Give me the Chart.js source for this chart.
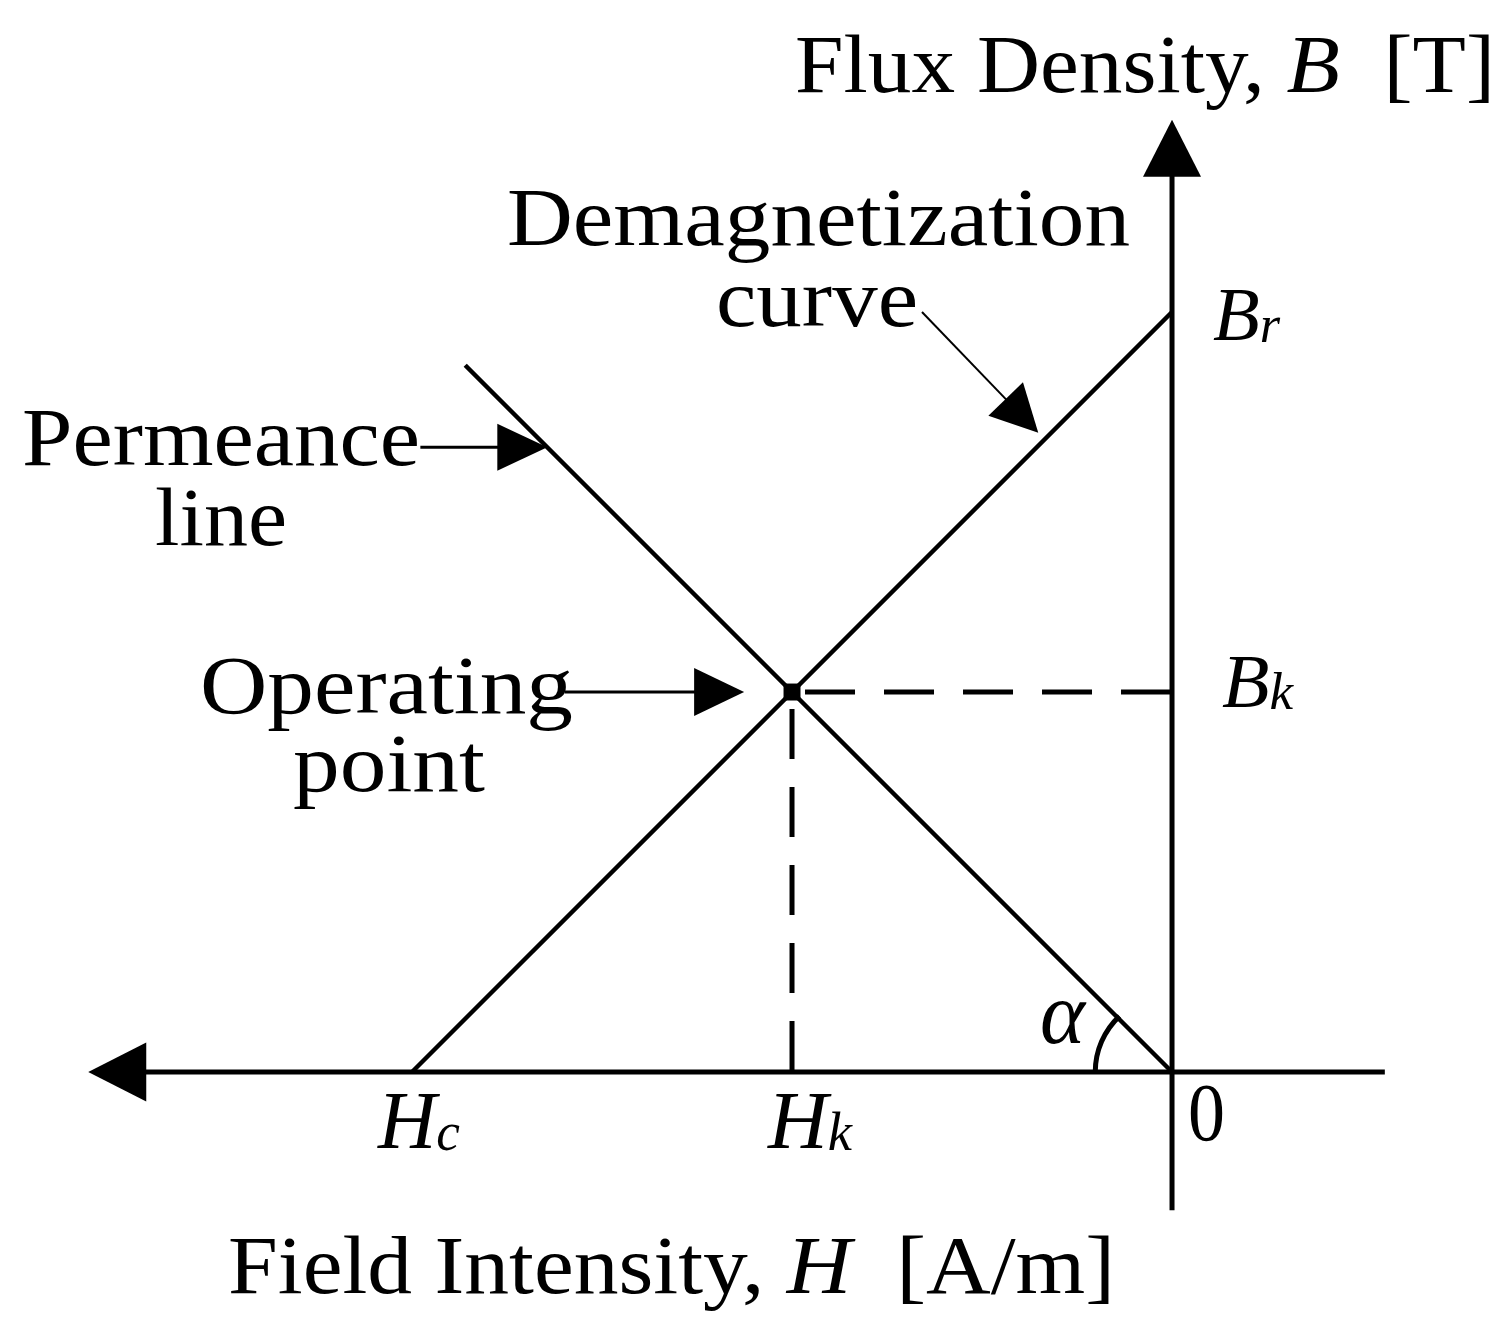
<!DOCTYPE html>
<html>
<head>
<meta charset="utf-8">
<title>Demagnetization curve and permeance line</title>
<script src="https://cdn.jsdelivr.net/npm/chart.js@4/dist/chart.umd.min.js"></script>
<style>
  html, body { margin: 0; padding: 0; background: #fff; }
  #wrap { width: 1508px; height: 1337px; }
</style>
</head>
<body>
<div id="wrap"><canvas id="chart" width="1508" height="1337"></canvas></div>
<script>
// values: H grows to the left (negative), B upward
const demagH = [-10.0, 0];          // Hc -> 0
const demagB = [0, 10.0];           // 0 -> Br
const permeanceH = [0, -9.3];
const permeanceB = [0, 9.3];
const operatingPoint = [-5.0, 5.0]; // [Hk, Bk]
const axisH = [2.8, -13.5];         // horizontal axis, right end -> arrow base
const axisB = [-1.82, 11.8];        // vertical axis, bottom -> arrow base
const arrowTipH = -14.26;
const arrowTipB = 12.53;

const FONT = '"Liberation Serif", "Times New Roman", serif';
const FONT_SIZE = 83;

function pts(xs, ys) {
    return xs.map((x, i) => ({ x: x, y: ys[i] }));
}

function toPx(chart, h, b) {
    return [chart.scales.x.getPixelForValue(h), chart.scales.y.getPixelForValue(b)];
}

function arrowHead(ctx, tip, from, len, width) {
    const ang = Math.atan2(tip[1] - from[1], tip[0] - from[0]);
    ctx.save();
    ctx.translate(tip[0], tip[1]);
    ctx.rotate(ang);
    ctx.beginPath();
    ctx.moveTo(0, 0);
    ctx.lineTo(-len, -width / 2);
    ctx.lineTo(-len, width / 2);
    ctx.closePath();
    ctx.fill();
    ctx.restore();
}

// text runs squeezed to the width they take in the figure
function drawRich(ctx, segs, x, baseline, targetWidth) {
    let total = 0;
    segs.forEach(s => {
        ctx.font = s.font;
        s.w = ctx.measureText(s.t).width;
        total += s.w;
    });
    const sx = targetWidth ? targetWidth / total : 1;
    ctx.save();
    ctx.translate(x, baseline);
    ctx.scale(sx, 1);
    let cx = 0;
    segs.forEach(s => {
        ctx.font = s.font;
        ctx.fillText(s.t, cx, s.dy || 0);
        cx += s.w;
    });
    ctx.restore();
}

const reg = (size) => size + 'px ' + FONT;
const ita = (size) => 'italic ' + size + 'px ' + FONT;

const pointers = [
    { from: [-9.89, 8.22], to: [-8.22, 8.22], width: 3, len: 50, head: 47 },   // permeance line
    { from: [-3.29, 10.0], to: [-1.76, 8.41], width: 2, len: 47, head: 48 },   // demagnetization curve
    { from: [-7.99, 5.0], to: [-5.63, 5.0], width: 3, len: 50, head: 48 }      // operating point
];

const decorations = {
    id: "decorations",
    afterDatasetsDraw(chart) {
        const ctx = chart.ctx;
        ctx.save();
        ctx.fillStyle = "#000";
        ctx.strokeStyle = "#000";

        // axis arrows
        const o = toPx(chart, 0, 0);
        arrowHead(ctx, toPx(chart, arrowTipH, 0), o, 58, 59);
        arrowHead(ctx, toPx(chart, 0, arrowTipB), o, 57, 58);

        // pointer arrows
        pointers.forEach(p => {
            const a = toPx(chart, p.from[0], p.from[1]);
            const b = toPx(chart, p.to[0], p.to[1]);
            const d = Math.hypot(b[0] - a[0], b[1] - a[1]);
            const e = [b[0] - (b[0] - a[0]) * (p.len - 4) / d, b[1] - (b[1] - a[1]) * (p.len - 4) / d];
            ctx.lineWidth = p.width;
            ctx.beginPath();
            ctx.moveTo(a[0], a[1]);
            ctx.lineTo(e[0], e[1]);
            ctx.stroke();
            arrowHead(ctx, b, a, p.len, p.head);
        });

        // angle alpha between permeance line and H axis
        const r = chart.scales.x.getPixelForValue(0) - chart.scales.x.getPixelForValue(-1.01);
        ctx.lineWidth = 5;
        ctx.beginPath();
        ctx.arc(o[0], o[1], r, Math.PI, 1.26 * Math.PI);
        ctx.stroke();

        // texts
        ctx.textBaseline = "alphabetic";
        drawRich(ctx, [
            { t: "Flux Density, ", font: reg(FONT_SIZE) },
            { t: "B", font: ita(FONT_SIZE) },
            { t: "  [T]", font: reg(FONT_SIZE) }
        ], 795, 92, 700);
        drawRich(ctx, [{ t: "Demagnetization", font: reg(FONT_SIZE) }], 507, 245, 623);
        drawRich(ctx, [{ t: "curve", font: reg(FONT_SIZE) }], 716, 326, 202);
        drawRich(ctx, [{ t: "Permeance", font: reg(FONT_SIZE) }], 22, 465, 398);
        drawRich(ctx, [{ t: "line", font: reg(FONT_SIZE) }], 155, 545, 132);
        drawRich(ctx, [{ t: "Operating", font: reg(FONT_SIZE) }], 200, 713, 373);
        drawRich(ctx, [{ t: "point", font: reg(FONT_SIZE) }], 293, 791, 192);
        drawRich(ctx, [
            { t: "Field Intensity, ", font: reg(FONT_SIZE) },
            { t: "H", font: ita(FONT_SIZE) },
            { t: "  [A/m]", font: reg(FONT_SIZE) }
        ], 228, 1293, 887);

        drawRich(ctx, [{ t: "B", font: ita(76) }, { t: "r", font: ita(52), dy: 2 }], 1213, 340, 67);
        drawRich(ctx, [{ t: "B", font: ita(76) }, { t: "k", font: ita(52), dy: 2 }], 1222, 707, 71);
        drawRich(ctx, [{ t: "H", font: ita(82) }, { t: "c", font: ita(54), dy: 2 }], 378, 1148, 82);
        drawRich(ctx, [{ t: "H", font: ita(82) }, { t: "k", font: ita(54), dy: 2 }], 768, 1148, 84);
        drawRich(ctx, [{ t: "0", font: reg(FONT_SIZE) }], 1188, 1140, 37);
        drawRich(ctx, [{ t: "\u03b1", font: ita(88) }], 1040, 1043, 45);
        ctx.restore();
    }
};

const lineSet = (data, width, extra) => Object.assign({
    data: data,
    showLine: true,
    borderColor: "#000",
    backgroundColor: "#000",
    borderWidth: width,
    pointRadius: 0,
    borderCapStyle: "butt",
    clip: false
}, extra || {});

const [Hk, Bk] = operatingPoint;

new Chart(document.getElementById("chart").getContext("2d"), {
    type: "scatter",
    data: {
        datasets: [
            lineSet(pts(axisH, [0, 0]), 5),
            lineSet(pts([0, 0], axisB), 5),
            lineSet(pts(demagH, demagB), 4.5),
            lineSet(pts(permeanceH, permeanceB), 4.5),
            lineSet(pts([Hk, 0], [Bk, Bk]), 5, { borderDash: [50, 29], borderDashOffset: 66 }),
            lineSet(pts([Hk, Hk], [Bk, 0]), 5, { borderDash: [50, 28], borderDashOffset: 61 }),
            {
                data: [{ x: Hk, y: Bk }],
                pointStyle: "rect",
                pointRadius: 12,
                backgroundColor: "#000",
                borderColor: "#000",
                borderWidth: 0,
                clip: false
            }
        ]
    },
    options: {
        responsive: false,
        animation: false,
        events: [],
        layout: { padding: { left: 50, right: 80, top: 80, bottom: 80 } },
        plugins: {
            legend: { display: false },
            tooltip: { enabled: false }
        },
        scales: {
            x: { type: "linear", display: false, min: -14.763, max: 3.368 },
            y: { type: "linear", display: false, min: -2.434, max: 13.053 }
        }
    },
    plugins: [decorations]
});
</script>
</body>
</html>
